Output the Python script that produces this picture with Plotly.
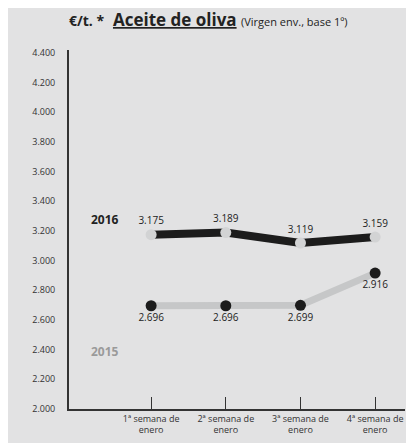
import plotly.graph_objects as go

categories = ["1ª semana de<br>enero", "2ª semana de<br>enero", "3ª semana de<br>enero", "4ª semana de<br>enero"]
x_pos = [0, 1, 2, 3]
values_2016 = [3175, 3189, 3119, 3159]
values_2015 = [2696, 2696, 2699, 2916]
y_ticks = [2000, 2200, 2400, 2600, 2800, 3000, 3200, 3400, 3600, 3800, 4000, 4200, 4400]

def fmt(v):
    return f"{v:,}".replace(",", ".")

FONT = "Open Sans"
fig = go.Figure()

fig.add_trace(go.Scatter(
    x=x_pos, y=values_2016, mode="lines+markers+text",
    line=dict(color="#1c1c1c", width=8),
    marker=dict(color="#d2d3d4", size=11),
    text=[fmt(v) for v in values_2016], textposition="top center",
    textfont=dict(family=FONT, size=10, color="#222"),
    showlegend=False, cliponaxis=False))

fig.add_trace(go.Scatter(
    x=x_pos, y=values_2015, mode="lines+markers+text",
    line=dict(color="#c6c7c8", width=7),
    marker=dict(color="#1c1c1c", size=11),
    text=[fmt(v) for v in values_2015], textposition="bottom center",
    textfont=dict(family=FONT, size=10, color="#222"),
    showlegend=False, cliponaxis=False))

# page has an 8px body margin; figure drawn from (8,8)
W, H = 414, 443
L, R, T, B = 61, 17, 42, 42
pw = W - L - R
ph = H - T - B
plot_left_px, plot_bottom_px = 8 + L, 8 + H - B

fig.add_annotation(xref="paper", yref="paper",
                   x=(208 - plot_left_px) / pw, y=(plot_bottom_px - 20) / ph,
                   xanchor="center", yanchor="middle", showarrow=False,
                   text="<b><span style='font-size:14px'>€/t. *</span></b>  "
                        "<b><u>Aceite de oliva</u></b> "
                        "<span style='font-size:11px'>(Virgen env., base 1º)</span>",
                   font=dict(family=FONT, size=17, color="#222"))

fig.add_annotation(x=-0.62, y=3275, text="<b>2016</b>", showarrow=False,
                   font=dict(family=FONT, size=12, color="#222"))
fig.add_annotation(x=-0.62, y=2390, text="<b>2015</b>", showarrow=False,
                   font=dict(family=FONT, size=12, color="#9a9a9a"))

fig.update_layout(
    width=W, height=H,
    margin=dict(l=L, r=R, t=T, b=B),
    paper_bgcolor="#e2e2e3", plot_bgcolor="#e2e2e3",
    font=dict(family=FONT, color="#333"),
    xaxis=dict(range=[-1.1, 3.4], tickvals=x_pos, ticktext=categories,
               showgrid=False, zeroline=False, showline=True,
               linecolor="#333", linewidth=1.5,
               ticks="inside", ticklen=12, tickcolor="#333", tickwidth=1,
               tickfont=dict(family=FONT, size=9, color="#333")),
    yaxis=dict(range=[2000, 4420], tickvals=y_ticks,
               ticktext=[fmt(v) for v in y_ticks],
               showgrid=False, zeroline=False, showline=True,
               linecolor="#333", linewidth=2, ticks="",
               ticklabelstandoff=10,
               tickfont=dict(family=FONT, size=9, color="#333")),
)

fig.write_html("out.html")
